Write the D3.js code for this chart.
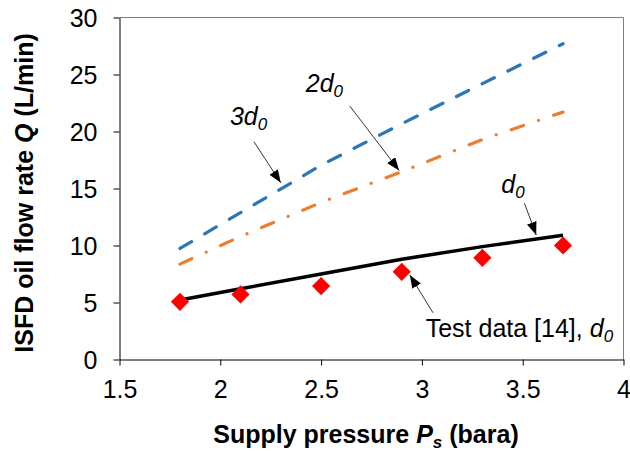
<!DOCTYPE html>
<html><head><meta charset="utf-8">
<script src="https://cdn.jsdelivr.net/npm/d3@7"></script>
<style>
body{margin:0;background:#fff}
text{font-family:Arial,"Liberation Sans",sans-serif}
</style>
</head><body>
<svg id="c" width="630" height="451"></svg>
<script>
// ---- data ----
const pressure = [1.8, 2.1, 2.5, 2.9, 3.3, 3.7];
const flow3d0  = [9.74, 12.88, 17.04, 20.68, 24.2, 27.7];
const flow2d0  = [8.37, 10.79, 13.78, 16.47, 19.3, 21.7];
const flowD0   = [5.22, 6.2, 7.5, 8.8, 9.9, 10.9];
const testD0   = [5.06, 5.71, 6.44, 7.69, 8.92, 10.0];
const xTicks = [1.5, 2, 2.5, 3, 3.5, 4];
const yTicks = [0, 5, 10, 15, 20, 25, 30];
const xLabel = ["Supply pressure ", "P", "s", " (bara)"];
const yLabel = ["ISFD oil flow rate ", "Q", " (L/min)"];
// annotations: text parts, text anchor (data units), arrow start, arrow tip
const notes = [
  {pre:"", it:"3d", sub:"0", tx:2.048, ty:20.57, ax:2.167, ay:19.1, bx:2.300, by:15.5},
  {pre:"", it:"2d", sub:"0", tx:2.424, ty:23.49, ax:2.642, ay:22.24, bx:2.887, by:16.58},
  {pre:"", it:"d",  sub:"0", tx:3.394, ty:14.57, ax:3.509, ay:13.7, bx:3.567, by:10.92},
  {pre:"Test data [14], ", it:"d", sub:"0", tx:3.019, ty:2.0, ax:3.055, ay:4.1, bx:2.94, by:7.41}
];

const svg = d3.select("#c");
const x = d3.scaleLinear().domain([1.5, 4]).range([119.5, 623.5]);
const y = d3.scaleLinear().domain([0, 30]).range([359.5, 17.5]);

// frame (top/right)
svg.append("path")
  .attr("d", `M${x(1.5)},${y(30)}H${x(4)}V${y(0)}`)
  .attr("fill","none").attr("stroke","#7f7f7f").attr("stroke-width",1);

// axes
const gx = svg.append("g").attr("transform",`translate(0,${y(0)})`)
  .call(d3.axisBottom(x).tickValues(xTicks).tickSize(6).tickSizeOuter(0).tickPadding(15)
        .tickFormat(d3.format("")));
const gy = svg.append("g").attr("transform",`translate(${x(1.5)},0)`)
  .call(d3.axisLeft(y).tickValues(yTicks).tickSize(6).tickSizeOuter(0).tickPadding(16));
[gx, gy].forEach(g => {
  g.selectAll("path.domain, line").attr("stroke","#000").attr("stroke-width",1);
  g.selectAll("text").attr("font-size",25).attr("fill","#000")
    .attr("font-family",'Arial,"Liberation Sans",sans-serif');
});
gy.selectAll("text").attr("dy","0.36em");

// lines
const mk = vals => pressure.map((p,i)=>[p, vals[i]]);
const line = d3.line().x(d=>x(d[0])).y(d=>y(d[1]));
svg.append("path").datum(mk(flow3d0)).attr("d",line)
  .attr("fill","none").attr("stroke","#2e75b6").attr("stroke-width",3.2)
  .attr("stroke-linecap","round").attr("stroke-dasharray","13.5,15.2");
svg.append("path").datum(mk(flow2d0)).attr("d",line)
  .attr("fill","none").attr("stroke","#ed7d31").attr("stroke-width",3.2)
  .attr("stroke-linecap","round").attr("stroke-dasharray","13,15.8,0.1,15.8");
svg.append("path").datum(mk(flowD0)).attr("d",line)
  .attr("fill","none").attr("stroke","#000").attr("stroke-width",3.5);

// test data diamonds
svg.append("g").selectAll("path").data(mk(testD0)).join("path")
  .attr("d", d3.symbol(d3.symbolSquare, 165))
  .attr("transform", d=>`translate(${x(d[0])},${y(d[1])}) rotate(45)`)
  .attr("fill","#ff0000");

// arrowhead
svg.append("defs").append("marker")
  .attr("id","ah").attr("markerUnits","userSpaceOnUse")
  .attr("markerWidth",14).attr("markerHeight",12)
  .attr("refX",13).attr("refY",5).attr("orient","auto")
  .append("path").attr("d","M0,0L13,5L0,10Z").attr("fill","#000");

const ann = svg.append("g");
notes.forEach(n => {
  ann.append("line")
    .attr("x1",x(n.ax)).attr("y1",y(n.ay)).attr("x2",x(n.bx)).attr("y2",y(n.by))
    .attr("stroke","#333").attr("stroke-width",1).attr("marker-end","url(#ah)");
  const t = ann.append("text").attr("x",x(n.tx)).attr("y",y(n.ty))
    .attr("font-size",25).attr("fill","#000");
  if (n.pre) t.append("tspan").text(n.pre);
  t.append("tspan").attr("font-style","italic").text(n.it);
  t.append("tspan").attr("font-style","italic").attr("font-size",17).attr("dy",5).text(n.sub);
});

// axis titles
const xt = svg.append("text").attr("x",366).attr("y",443).attr("text-anchor","middle")
  .attr("font-size",25).attr("font-weight","bold").attr("fill","#000");
xt.append("tspan").text(xLabel[0]);
xt.append("tspan").attr("font-style","italic").text(xLabel[1]);
xt.append("tspan").attr("font-style","italic").attr("font-size",17).attr("dy",5).text(xLabel[2]);
xt.append("tspan").attr("dy",-5).text(xLabel[3]);

const yt = svg.append("text").attr("transform","translate(33,193) rotate(-90)")
  .attr("text-anchor","middle").attr("font-size",25).attr("font-weight","bold").attr("fill","#000");
yt.append("tspan").text(yLabel[0]);
yt.append("tspan").attr("font-style","italic").text(yLabel[1]);
yt.append("tspan").text(yLabel[2]);
</script>
</body></html>
